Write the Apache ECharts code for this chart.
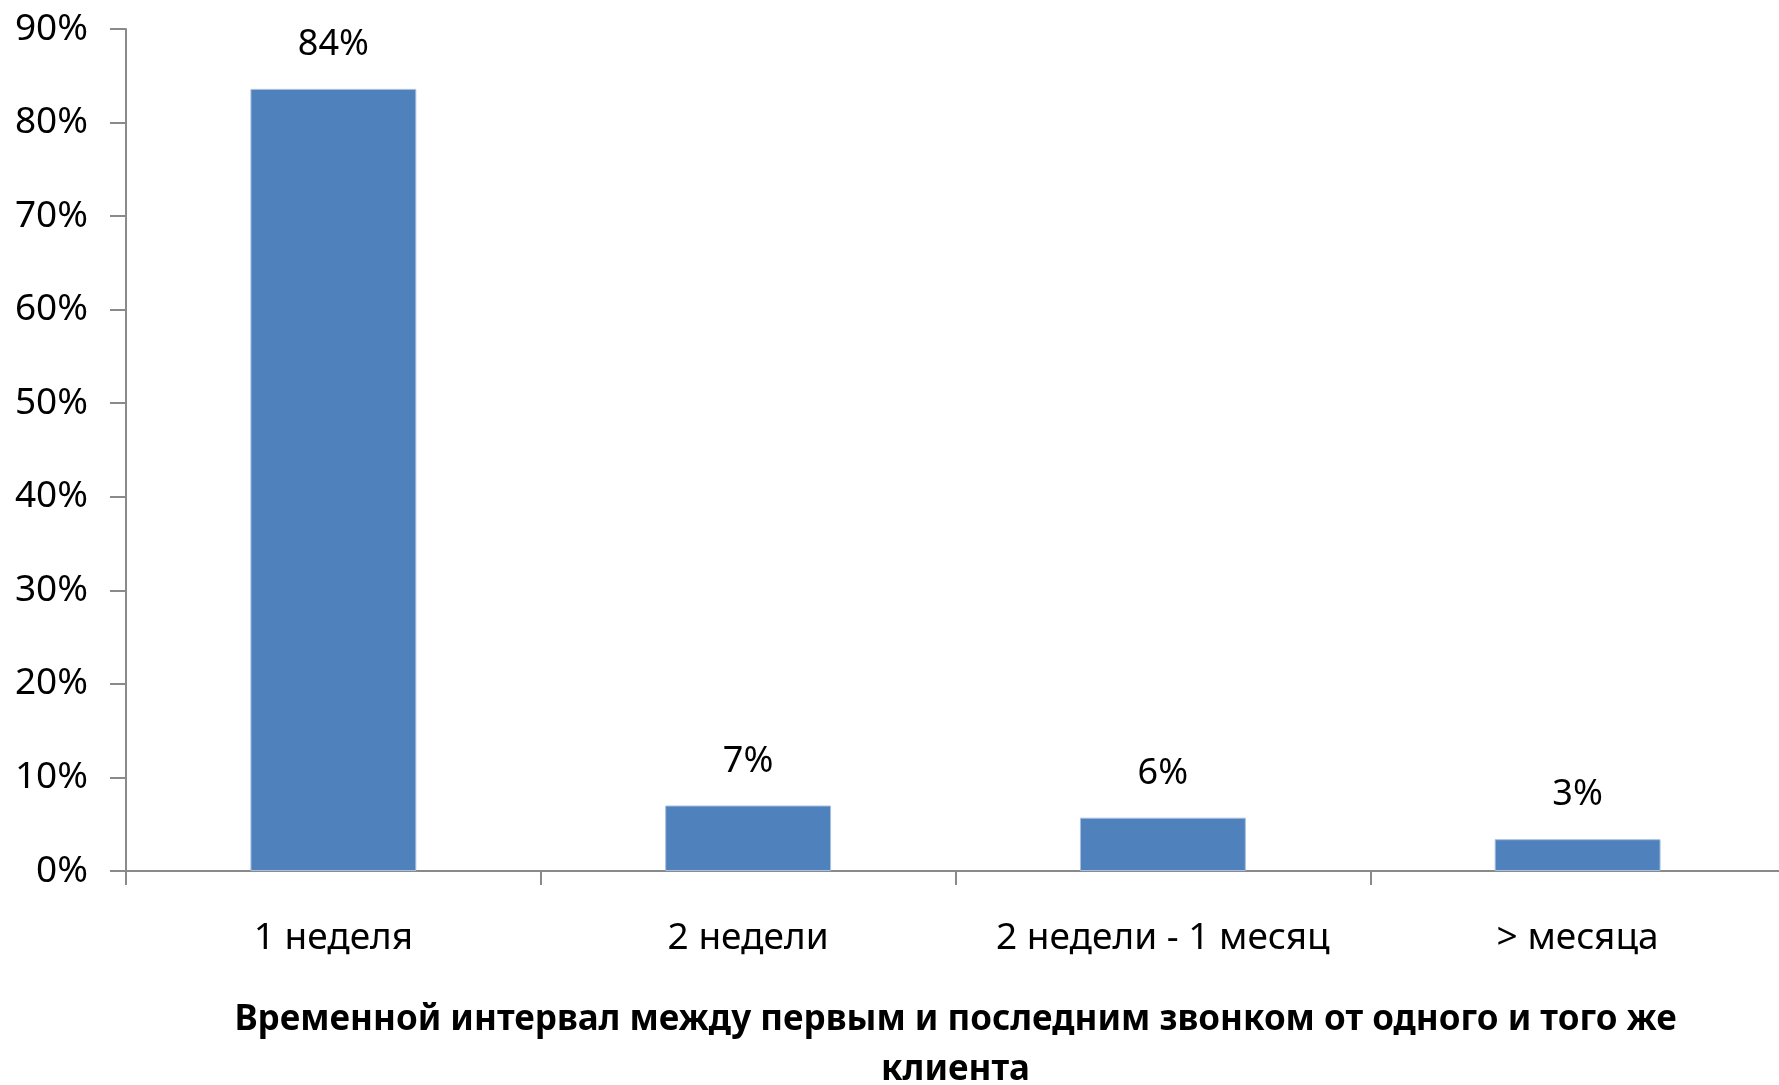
<!DOCTYPE html>
<html>
<head>
<meta charset="utf-8">
<title>Временной интервал</title>
<script src="https://cdn.jsdelivr.net/npm/echarts@6/dist/echarts.min.js"></script>
<style>
  html, body { margin: 0; padding: 0; background: #fff; }
  #chart { width: 1779px; height: 1085px; }
</style>
</head>
<body>
<div id="chart"></div>
<script>
// данные
const categories = ['1 неделя', '2 недели', '2 недели - 1 месяц', '> месяца']
const shares = [83.6, 7.0, 5.7, 3.4]
const yTicks = { min: 0, max: 90, step: 10 }
const axisTitle = 'Временной интервал между первым и последним звонком от одного и того же\nклиента'

const myChart = echarts.init(document.getElementById('chart'))

const axisGray = '#8a8a8a'
const font = 'Noto Sans'

const option = {
  animation: false,
  grid: {
    left: 126,
    right: -6,
    top: 29,
    bottom: 214,
    outerBoundsMode: 'none'
  },
  xAxis: {
    type: 'category',
    data: categories,
    name: axisTitle,
    nameLocation: 'middle',
    nameGap: 124,
    nameTextStyle: {
      fontFamily: font,
      fontWeight: 'bold',
      fontSize: 35,
      lineHeight: 50,
      color: '#000',
      align: 'center'
    },
    axisLine: { lineStyle: { color: axisGray, width: 2 } },
    axisTick: { show: true, length: 14, lineStyle: { color: axisGray, width: 2 } },
    axisLabel: {
      interval: 0,
      margin: 49,
      fontFamily: font,
      fontSize: 37,
      color: '#000'
    },
    splitLine: { show: false }
  },
  yAxis: {
    type: 'value',
    min: yTicks.min,
    max: yTicks.max,
    interval: yTicks.step,
    axisLine: { show: true, lineStyle: { color: axisGray, width: 2 } },
    axisTick: { show: true, length: 16, lineStyle: { color: axisGray, width: 2 } },
    axisLabel: {
      margin: 38,
      formatter: '{value}%',
      fontFamily: font,
      fontSize: 37,
      color: '#000'
    },
    splitLine: { show: false }
  },
  series: [
    {
      type: 'bar',
      data: shares,
      barWidth: '40%',
      itemStyle: {
        color: '#4f81bd',
        borderColor: '#a9c0de',
        borderWidth: 1
      },
      label: {
        show: true,
        position: 'top',
        distance: 26,
        fontFamily: font,
        fontSize: 36,
        color: '#000',
        formatter: p => Math.round(p.value) + '%'
      }
    }
  ]
}

myChart.setOption(option)

window.addEventListener('resize', () => {
  myChart.resize()
})
</script>
</body>
</html>
